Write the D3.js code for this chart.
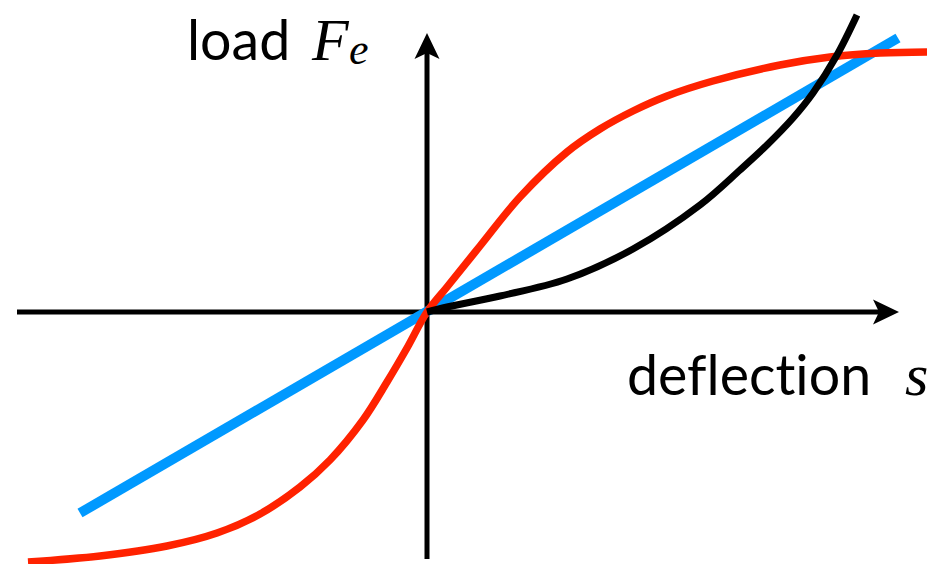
<!DOCTYPE html>
<html>
<head>
<meta charset="utf-8">
<script src="https://cdn.jsdelivr.net/npm/d3@7"></script>
<style>
  body { margin: 0; background: #fff; }
  svg { display: block; }
  .label { font-family: Lato, "Open Sans", sans-serif; font-size: 55.5px; fill: #000; font-variant-ligatures: none; }
  .math { font-family: "Liberation Serif", "DejaVu Serif", serif; font-style: italic; fill: #000; }
</style>
</head>
<body>
<div id="chart"></div>
<script>
// deflection s (x) and load Fe (y), in plot units
var linearS = [-3.47, 4.71];
var linearF = [-2.01, 2.74];

var softeningS = [-3.99, -3.27, -2.60, -2.10, -1.67, -1.27, -0.97, -0.64, -0.40, -0.20, 0,
                  0.20, 0.53, 0.93, 1.40, 1.73, 2.06, 2.40, 2.86, 3.53, 4.03, 4.53, 5.00];
var softeningF = [-2.50, -2.44, -2.34, -2.21, -2.02, -1.75, -1.48, -1.08, -0.70, -0.36, 0,
                  0.25, 0.66, 1.15, 1.60, 1.83, 2.01, 2.16, 2.31, 2.47, 2.55, 2.59, 2.60];

var stiffeningS = [0, 0.20, 0.73, 1.40, 2.06, 2.73, 3.13, 3.40, 3.66, 3.86, 4.10, 4.30];
var stiffeningF = [0, 0.05, 0.16, 0.33, 0.63, 1.07, 1.42, 1.67, 1.94, 2.19, 2.57, 2.97];

var axisS = [-4.10, 4.72];   // x axis extent (arrow tip)
var axisF = [-2.47, 2.79];   // y axis extent (arrow tip)

var xLabel = "deflection", xSym = "s";
var yLabel = "load", ySym = "F", ySub = "e";

var width = 927, height = 564;

var svg = d3.select("#chart").append("svg")
  .attr("width", width)
  .attr("height", height);

// Scales (origin at 427, 312)
var x = d3.scaleLinear().domain([-4.10, 5.00]).range([17, 927]);
var y = d3.scaleLinear().domain([-2.52, 3.12]).range([564, 0]);

function zip(a, b) {
  return a.map(function(d, i) { return [d, b[i]]; });
}

var line = d3.line()
  .x(function(d) { return x(d[0]); })
  .y(function(d) { return y(d[1]); })
  .curve(d3.curveCatmullRom.alpha(0.5));

// Axes
svg.append("line")
  .attr("x1", x(axisS[0])).attr("x2", x(axisS[1]) - 20)
  .attr("y1", y(0)).attr("y2", y(0))
  .attr("stroke", "#000").attr("stroke-width", 5);

svg.append("line")
  .attr("x1", x(0)).attr("x2", x(0))
  .attr("y1", y(axisF[0])).attr("y2", y(axisF[1]) + 20)
  .attr("stroke", "#000").attr("stroke-width", 5);

// arrowheads
var tx = x(axisS[1]), ty = y(0);
svg.append("path")
  .attr("d", "M" + tx + "," + ty + "L" + (tx - 26) + "," + (ty - 12.5) +
             "L" + (tx - 20) + "," + ty + "L" + (tx - 26) + "," + (ty + 12.5) + "Z")
  .attr("fill", "#000");

var ax = x(0), ay = y(axisF[1]);
svg.append("path")
  .attr("d", "M" + ax + "," + ay + "L" + (ax - 12.5) + "," + (ay + 26) +
             "L" + ax + "," + (ay + 20) + "L" + (ax + 12.5) + "," + (ay + 26) + "Z")
  .attr("fill", "#000");

// Curves
svg.append("path")
  .datum(zip(linearS, linearF))
  .attr("d", d3.line().x(function(d) { return x(d[0]); }).y(function(d) { return y(d[1]); }))
  .attr("fill", "none")
  .attr("stroke", "#0099ff")
  .attr("stroke-width", 10);

svg.append("path")
  .datum(zip(softeningS, softeningF))
  .attr("d", line)
  .attr("fill", "none")
  .attr("stroke", "#ff2200")
  .attr("stroke-width", 7.5);

svg.append("path")
  .datum(zip(stiffeningS, stiffeningF))
  .attr("d", line)
  .attr("fill", "none")
  .attr("stroke", "#000")
  .attr("stroke-width", 7);

// Labels
svg.append("text")
  .attr("class", "label")
  .attr("x", 187).attr("y", 60)
  .text(yLabel);

svg.append("text")
  .attr("class", "math")
  .attr("x", 312).attr("y", 60)
  .style("font-size", "60px")
  .text(ySym);

svg.append("text")
  .attr("class", "math")
  .attr("x", 349).attr("y", 64)
  .style("font-size", "44px")
  .text(ySub);

svg.append("text")
  .attr("class", "label")
  .attr("x", 627).attr("y", 395)
  .text(xLabel);

svg.append("text")
  .attr("class", "math")
  .attr("x", 905).attr("y", 395)
  .style("font-size", "60px")
  .text(xSym);
</script>
</body>
</html>
